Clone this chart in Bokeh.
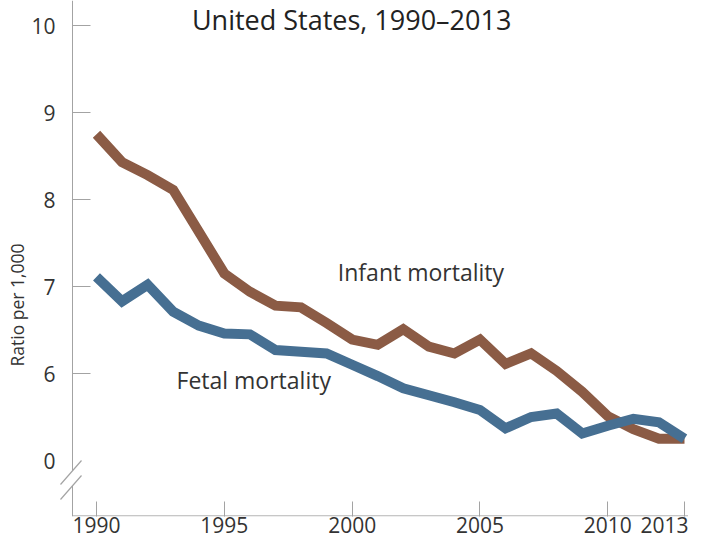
from bokeh.plotting import figure
from bokeh.models import FixedTicker, Label, Range1d, Title
from bokeh.embed import file_html
from bokeh.resources import INLINE

# ---- data ----
years = list(range(1990, 2014))
infant = [8.75, 8.43, 8.28, 8.11, 7.63, 7.15, 6.94, 6.78, 6.76, 6.58, 6.39, 6.33,
          6.51, 6.31, 6.23, 6.39, 6.11, 6.23, 6.03, 5.79, 5.51, 5.36, 5.25, 5.25]
fetal = [7.11, 6.83, 7.02, 6.71, 6.55, 6.46, 6.45, 6.27, 6.25, 6.23, 6.10, 5.97,
         5.83, 5.75, 5.67, 5.58, 5.37, 5.50, 5.54, 5.31, 5.40, 5.48, 5.44, 5.25]
x_ticks = [1990, 1995, 2000, 2005, 2010, 2013]
y_ticks = [6, 7, 8, 9, 10]
y_break = 5            # value shown as "0" just above the axis break
y_tick_labels = {5: "0"}

FONT = "Open Sans"
AXIS_GREY = "#a3a3a3"
TEXT = "#333333"
BROWN = "#8b5b45"
BLUE = "#466f92"

# ---- scales (pixels per unit) ----
SX = 25.565   # px per year
SY = 87.0     # px per ratio unit
LEFT = 59
BOTTOM = 24
FRAME_W = 688 - LEFT
FRAME_H = 540 - BOTTOM

x_start = 1990 - 37 / SX
x_end = x_start + FRAME_W / SX
axis_x = 1990 - 24 / SX           # where the y axis line sits
y_end = 10 + 25 / SY
y_start = y_end - FRAME_H / SY
axis_y = y_start + 0.6 / SY       # where the x axis line sits

p = figure(width=688, height=540, x_range=Range1d(x_start, x_end),
           y_range=Range1d(y_start, y_end),
           output_backend="svg", toolbar_location=None,
           min_border_left=LEFT, min_border_right=0, min_border_top=0,
           min_border_bottom=BOTTOM)
p.outline_line_color = None
p.grid.visible = False
p.background_fill_color = "white"

# y axis (labels only; line and ticks are drawn below so the break fits)
p.yaxis.ticker = FixedTicker(ticks=[y_break] + y_ticks)
p.yaxis.major_label_overrides = y_tick_labels
p.yaxis.axis_line_color = None
p.yaxis.major_tick_line_color = None
p.yaxis.minor_tick_line_color = None
p.yaxis.major_tick_in = 0
p.yaxis.major_tick_out = 0
p.yaxis.major_label_standoff = 4
p.yaxis.major_label_text_font = FONT
p.yaxis.major_label_text_font_size = "21px"
p.yaxis.major_label_text_color = TEXT

# y axis title, placed lower along the axis like the reference
p.add_layout(Title(text="Ratio per 1,000", align="left", offset=150, standoff=0,
                   text_font=FONT, text_font_size="17.5px", text_font_style="normal",
                   text_color=TEXT), "left")

# x axis
p.xaxis.ticker = FixedTicker(ticks=x_ticks)
p.xaxis.axis_line_color = None
p.xaxis.major_tick_line_color = AXIS_GREY
p.xaxis.major_tick_in = 15
p.xaxis.major_tick_out = 0
p.xaxis.minor_tick_line_color = None
p.xaxis.major_label_standoff = 0
p.xaxis.major_label_text_font = FONT
p.xaxis.major_label_text_font_size = "21px"
p.xaxis.major_label_text_color = TEXT

# axis lines, y ticks and the axis break
tick_len = 18 / SX
p.segment(x0=[axis_x] * len(y_ticks), y0=y_ticks,
          x1=[axis_x + tick_len] * len(y_ticks), y1=y_ticks,
          line_color=AXIS_GREY, line_width=1)
slash_h = 24 / SY
gap = 15 / SY
s1_lo, s1_hi = y_break - slash_h, y_break
s2_lo, s2_hi = s1_lo - gap, s1_hi - gap
frac = 12 / 21
p.segment(x0=[axis_x, axis_x, axis_x], y0=[y_end, s2_lo + frac * slash_h, axis_y],
          x1=[axis_x, axis_x, x_end], y1=[s1_lo + frac * slash_h, y_start, axis_y],
          line_color=AXIS_GREY, line_width=1)
p.segment(x0=[1990 - 36 / SX] * 2, y0=[s1_lo, s2_lo],
          x1=[1990 - 15 / SX] * 2, y1=[s1_hi, s2_hi],
          line_color=AXIS_GREY, line_width=1.2)

# data lines
p.line(years, infant, line_width=10, line_color=BROWN, line_join="miter", line_cap="butt")
p.line(years, fetal, line_width=10, line_color=BLUE, line_join="miter", line_cap="butt")

# title and series labels
p.add_layout(Label(x=1999.98, y=10.068, text="United States, 1990\u20132013",
                   text_align="center", text_baseline="alphabetic",
                   text_font=FONT, text_font_size="27px", text_color="#222222"))
p.add_layout(Label(x=1999.44, y=7.161, text="Infant mortality",
                   text_align="left", text_baseline="alphabetic",
                   text_font=FONT, text_font_size="23px", text_color=TEXT))
p.add_layout(Label(x=1993.13, y=5.931, text="Fetal mortality",
                   text_align="left", text_baseline="alphabetic",
                   text_font=FONT, text_font_size="23px", text_color=TEXT))

open("out.html", "w").write(file_html(p, INLINE))
